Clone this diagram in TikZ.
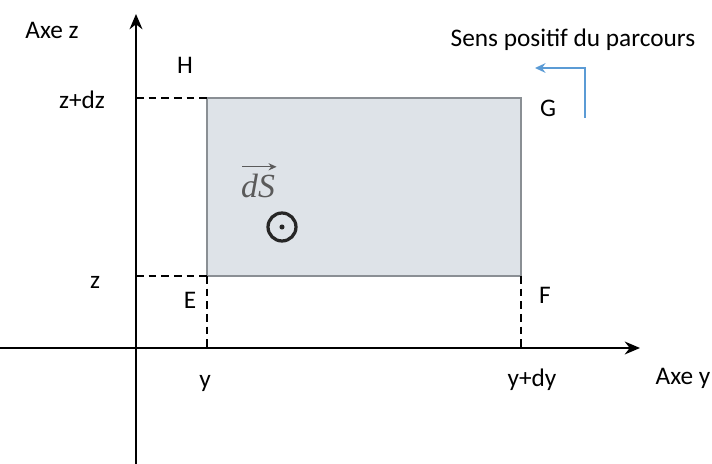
\documentclass[tikz,border=0pt]{standalone}
\usepackage{fontspec}
\setmainfont{Carlito}
\newfontfamily\vecfont{Liberation Serif}
\usepackage{tikz}
\usepackage{xcolor}
\usetikzlibrary{arrows.meta}
\definecolor{SurfFill}{HTML}{DEE3E8}
\definecolor{SurfEdge}{HTML}{8A8F94}
\definecolor{SensBlue}{HTML}{5B9BD5}
\definecolor{VecGray}{HTML}{5A5A5A}

\begin{document}
\begin{tikzpicture}[
    lbl/.style={font=\fontsize{18}{21}\selectfont, inner sep=1pt},
    axis/.style={-{Stealth[length=3.8mm, width=3.2mm]}, line width=2.1pt},
    proj/.style={dashed, dash pattern=on 5.5pt off 3.5pt, line width=2.1pt},
    surface/.style={fill=SurfFill, draw=SurfEdge, line width=0.8pt},
    sens/.style={-{Stealth[length=2.6mm, width=2.4mm]}, line width=1.6pt,
                 draw=SensBlue}
]
\useasboundingbox (-3.4,-2.9) rectangle (14.4,8.7);

% axes
\coordinate (zbot) at (0,-2.9);
\coordinate (ztop) at (0,8.35);
\coordinate (yleft) at (-3.4,0);
\coordinate (yright) at (12.6,0);

% corners of the surface element
\coordinate (E) at (1.775,1.8);
\coordinate (F) at (9.625,1.8);
\coordinate (G) at (9.625,6.25);
\coordinate (H) at (1.775,6.25);

\fill[surface] (E) rectangle (G);

\draw[axis] (zbot) -- (ztop);
\draw[axis] (yleft) -- (yright);

% projections on the axes
\draw[proj] (0,6.25) -- (H);
\draw[proj] (0,1.8) -- (E);
\draw[proj] (E) -- (1.775,0);
\draw[proj] (F) -- (9.625,0);

\node[lbl] (axez) at (-2.1,7.95) {Axe z};
\node[lbl] (axey) at (13.675,-0.75) {Axe y};
\node[lbl] (labH) at (1.225,7.075) {H};
\node[lbl] (labG) at (10.3,6.0) {G};
\node[lbl] (labE) at (1.35,1.2) {E};
\node[lbl] (labF) at (10.225,1.325) {F};
\node[lbl] (zdz) at (-1.35,6.2) {z+dz};
\node[lbl] (zlab) at (-1.025,1.65) {z};
\node[lbl] (ylab) at (1.725,-0.875) {y};
\node[lbl] (ydy) at (9.9,-0.8) {y+dy};
\node[lbl] (sens) at (10.925,7.7) {Sens positif du parcours};

% normal vector, out of the page
\node[text=VecGray, font=\vecfont\itshape\fontsize{24}{26}\selectfont,
      inner sep=0pt] (dS) at (3.05,4.05) {dS};
\draw[-{Stealth[length=2mm, width=1.8mm]}, line width=0.9pt, VecGray]
    ([xshift=1pt, yshift=5pt]dS.north west)
    -- ([xshift=1pt, yshift=5pt]dS.north east);
\node[circle, draw=black!85, line width=2.3pt, minimum size=7mm,
      inner sep=0pt] (odot) at (3.65,3.025) {};
\fill[black!85] (odot.center) circle (1.8pt);

% orientation of the contour
\coordinate (s1) at (11.225,5.75);
\coordinate (s2) at (11.225,7.0);
\coordinate (s3) at (9.975,7.0);
\draw[sens] (s1) -- (s2) -- (s3);
\end{tikzpicture}
\end{document}
